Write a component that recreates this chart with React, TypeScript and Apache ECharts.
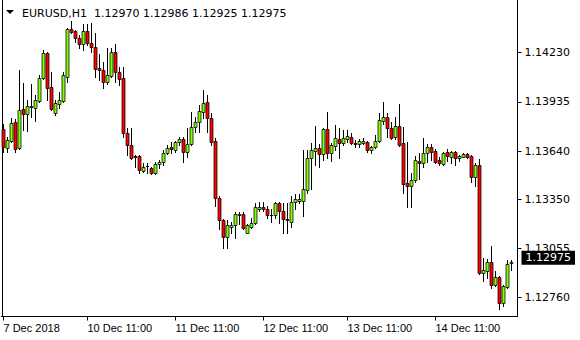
import React, { useEffect, useRef } from "react";
import * as echarts from "echarts";

// Header info
const symbolName = "EURUSD,H1";
const headerOHLC = [1.1297, 1.12986, 1.12925, 1.12975];

// Price axis ticks (right scale)
const priceTicks = [1.1423, 1.13935, 1.1364, 1.1335, 1.13055, 1.1276];
const priceMin = 1.12647;
const priceMax = 1.14546;

// Time labels and the bar index at which each appears
const timeLabels = ["7 Dec 2018", "10 Dec 11:00", "11 Dec 11:00", "12 Dec 11:00", "13 Dec 11:00", "14 Dec 11:00"];
const timeLabelBars = [0, 21, 43, 65, 86, 108];
const barSlots = 129;

// Candles: open, close, low, high
const opens = [
  1.13771, 1.13656, 1.13699, 1.13813, 1.13656, 1.13891, 1.13861, 1.13903, 1.13897, 1.13939,
  1.14078, 1.14228, 1.14024, 1.13867, 1.13921, 1.13939, 1.14084, 1.14373, 1.14361, 1.14319,
  1.14283, 1.14361, 1.14289, 1.14264, 1.14138, 1.14126, 1.14054, 1.1409, 1.14234, 1.14114,
  1.14078, 1.13747, 1.13674, 1.13608, 1.13608, 1.13518, 1.13548, 1.13536, 1.13506, 1.1356,
  1.13572, 1.13626, 1.13662, 1.13644, 1.13693, 1.13711, 1.13632, 1.13681, 1.13783, 1.13813,
  1.13873, 1.13933, 1.13837, 1.13699, 1.13355, 1.13229, 1.13127, 1.13187, 1.13193, 1.13259,
  1.13265, 1.13151, 1.13187, 1.13211, 1.13295, 1.13307, 1.13295, 1.13259, 1.13259, 1.13325,
  1.13283, 1.13235, 1.13217, 1.13331, 1.13343, 1.13343, 1.13403, 1.13596, 1.13638, 1.13656,
  1.1362, 1.13771, 1.13626, 1.13668, 1.13711, 1.13687, 1.13711, 1.13723, 1.13687, 1.13681,
  1.13687, 1.13693, 1.13644, 1.13662, 1.13699, 1.13819, 1.13843, 1.13777, 1.13723, 1.13789,
  1.13687, 1.13446, 1.13428, 1.13464, 1.13578, 1.13566, 1.13626, 1.13662, 1.13638, 1.13584,
  1.1356, 1.13632, 1.13602, 1.13632, 1.13596, 1.13602, 1.1362, 1.13608, 1.13482, 1.13554,
  1.1291, 1.12922, 1.12976, 1.12838, 1.12886, 1.12729, 1.12826, 1.1297,
];
const closes = [
  1.13662, 1.13705, 1.13807, 1.1365, 1.13885, 1.13861, 1.13909, 1.13909, 1.13945, 1.14078,
  1.14228, 1.14018, 1.13891, 1.13927, 1.13945, 1.14096, 1.14373, 1.14355, 1.14319, 1.14283,
  1.14361, 1.14289, 1.14264, 1.14132, 1.14126, 1.14054, 1.14096, 1.14234, 1.14114, 1.14072,
  1.13747, 1.13674, 1.13596, 1.13602, 1.13524, 1.13542, 1.13548, 1.13506, 1.1356, 1.13572,
  1.13626, 1.13656, 1.1365, 1.13693, 1.13711, 1.13632, 1.13681, 1.13783, 1.13813, 1.13879,
  1.13927, 1.13837, 1.13693, 1.13355, 1.13229, 1.13127, 1.13193, 1.13193, 1.13265, 1.13265,
  1.13181, 1.13193, 1.13211, 1.13301, 1.13307, 1.13295, 1.13253, 1.13259, 1.13325, 1.13277,
  1.13235, 1.13223, 1.13331, 1.13349, 1.13349, 1.1341, 1.13596, 1.13644, 1.13656, 1.1362,
  1.13771, 1.13626, 1.13674, 1.13717, 1.13687, 1.13717, 1.13729, 1.13687, 1.13681, 1.13699,
  1.13699, 1.13644, 1.13662, 1.13699, 1.13825, 1.13843, 1.13777, 1.13717, 1.13789, 1.13674,
  1.1344, 1.13428, 1.13464, 1.13584, 1.13566, 1.13626, 1.13662, 1.13632, 1.13572, 1.13566,
  1.13626, 1.13608, 1.13632, 1.13596, 1.13608, 1.1362, 1.13602, 1.13482, 1.13554, 1.1291,
  1.12928, 1.12976, 1.12838, 1.12886, 1.12729, 1.12832, 1.12964, 1.12975,
];
const lows = [
  1.13632, 1.13632, 1.13693, 1.13632, 1.1365, 1.13765, 1.13759, 1.13843, 1.13819, 1.13933,
  1.14072, 1.13945, 1.13885, 1.13855, 1.13897, 1.13933, 1.14054, 1.14349, 1.14295, 1.14258,
  1.14246, 1.14276, 1.14234, 1.14084, 1.14066, 1.14018, 1.14042, 1.14084, 1.14054, 1.14036,
  1.13723, 1.13614, 1.1359, 1.13542, 1.13506, 1.13512, 1.13506, 1.135, 1.135, 1.13536,
  1.13554, 1.1362, 1.13626, 1.13632, 1.13674, 1.13572, 1.13602, 1.13674, 1.13753, 1.13753,
  1.13837, 1.13753, 1.13674, 1.13313, 1.13175, 1.1306, 1.1306, 1.13145, 1.13115, 1.13205,
  1.13175, 1.13145, 1.13181, 1.13205, 1.13283, 1.13283, 1.13241, 1.13217, 1.13241, 1.13211,
  1.13145, 1.13145, 1.13187, 1.13295, 1.13325, 1.13247, 1.13391, 1.1341, 1.13554, 1.13542,
  1.13584, 1.13596, 1.13578, 1.13644, 1.13596, 1.13674, 1.13693, 1.13681, 1.13662, 1.13662,
  1.13681, 1.13632, 1.13626, 1.13656, 1.13693, 1.13801, 1.13723, 1.13711, 1.13711, 1.13668,
  1.13385, 1.13301, 1.13301, 1.13452, 1.1347, 1.13542, 1.13572, 1.13584, 1.13566, 1.13554,
  1.13554, 1.13578, 1.13566, 1.13554, 1.13578, 1.13602, 1.13596, 1.13452, 1.13428, 1.12904,
  1.12862, 1.1288, 1.1282, 1.12832, 1.12693, 1.12711, 1.1282, 1.12925,
];
const highs = [
  1.13801, 1.13723, 1.13837, 1.13831, 1.14126, 1.14048, 1.13945, 1.14042, 1.13976, 1.14096,
  1.14246, 1.14234, 1.14114, 1.13945, 1.13994, 1.14114, 1.14379, 1.14421, 1.14367, 1.14337,
  1.14403, 1.14403, 1.14409, 1.14349, 1.14222, 1.14174, 1.14258, 1.14258, 1.14283, 1.14144,
  1.14144, 1.13777, 1.13777, 1.13614, 1.13614, 1.13566, 1.13566, 1.13542, 1.13572, 1.13584,
  1.13644, 1.13674, 1.13693, 1.13699, 1.13723, 1.13723, 1.13777, 1.13873, 1.13843, 1.13915,
  1.14006, 1.13976, 1.13867, 1.13717, 1.13373, 1.13235, 1.13223, 1.13217, 1.13271, 1.13271,
  1.13271, 1.13205, 1.13241, 1.13325, 1.13331, 1.13331, 1.13313, 1.13295, 1.13331, 1.13331,
  1.13325, 1.13325, 1.13373, 1.13379, 1.13379, 1.13644, 1.13644, 1.13687, 1.13789, 1.13681,
  1.13777, 1.13873, 1.13687, 1.13795, 1.13777, 1.13765, 1.13765, 1.13747, 1.13705, 1.13711,
  1.13717, 1.13699, 1.13668, 1.13735, 1.13867, 1.13933, 1.13867, 1.13813, 1.13843, 1.13921,
  1.13783, 1.13693, 1.13506, 1.13608, 1.13626, 1.13717, 1.13681, 1.13681, 1.1365, 1.13602,
  1.13632, 1.1365, 1.13638, 1.13638, 1.13614, 1.13626, 1.13626, 1.13614, 1.13566, 1.1359,
  1.13, 1.12994, 1.13067, 1.12922, 1.12892, 1.12838, 1.12988, 1.12986,
];

const BULL = "#80FF00";
const BEAR = "#FF0000";

export default function App() {
  const ref = useRef<HTMLDivElement>(null);

  useEffect(() => {
    if (!ref.current) return;
    const chart = echarts.init(ref.current, null, { renderer: "svg" });

    const categories = Array.from({ length: barSlots }, (_, i) => {
      const k = timeLabelBars.indexOf(i);
      return k >= 0 ? timeLabels[k] : "";
    });
    const candleData = opens.map((o, i) => [i, o, closes[i], lows[i], highs[i]]);
    const showAt = (idx: number) => timeLabelBars.indexOf(idx) >= 0;
    const lastClose = closes[closes.length - 1];

    const renderCandle = (params: any, api: any) => {
      const idx = api.value(0);
      const o = api.value(1);
      const c = api.value(2);
      const l = api.value(3);
      const h = api.value(4);
      const pO = api.coord([idx, o]);
      const pC = api.coord([idx, c]);
      const pL = api.coord([idx, l]);
      const pH = api.coord([idx, h]);
      const xc = Math.floor(pO[0]) + 0.5;
      const top = Math.round(Math.min(pO[1], pC[1])) + 0.5;
      const bot = Math.round(Math.max(pO[1], pC[1])) + 0.5;
      const yH = Math.round(pH[1]);
      const yL = Math.round(pL[1]) + 1;
      const up = c >= o;
      return {
        type: "group",
        children: [
          {
            type: "line",
            shape: { x1: xc, y1: yH, x2: xc, y2: yL },
            style: { stroke: "#000", lineWidth: 1 },
          },
          {
            type: "rect",
            shape: { x: xc - 1.5, y: top, width: 3, height: Math.max(0, bot - top) },
            style: { fill: up ? BULL : BEAR, stroke: "#000", lineWidth: 0.75 },
          },
        ],
      };
    };

    chart.setOption({
      animation: false,
      backgroundColor: "#ffffff",
      grid: { left: 1.5, right: 62.5, top: 0, bottom: 23.5, containLabel: false },
      xAxis: {
        type: "category",
        data: categories,
        boundaryGap: true,
        axisLine: { show: true, lineStyle: { color: "#000", width: 1 } },
        axisTick: { show: true, alignWithLabel: true, interval: (i: number) => showAt(i), length: 4, lineStyle: { color: "#000" } },
        axisLabel: {
          interval: (i: number) => showAt(i),
          align: "left",
          color: "#000",
          fontFamily: "Liberation Sans",
          fontSize: 11,
          margin: 6,
          hideOverlap: false,
        },
        splitLine: { show: false },
      },
      yAxis: [
        {
          type: "value",
          position: "right",
          min: priceMin,
          max: priceMax,
          axisLine: { show: true, lineStyle: { color: "#000", width: 1 } },
          axisTick: { show: true, customValues: priceTicks, length: 4, inside: false, lineStyle: { color: "#000" } },
          axisLabel: {
            customValues: priceTicks,
            formatter: (v: number) => v.toFixed(5),
            color: "#000",
            fontFamily: "DejaVu Sans",
            fontSize: 11,
            margin: 7,
          },
          splitLine: { show: false },
        },
        {
          type: "value",
          position: "left",
          offset: -1,
          min: priceMin,
          max: priceMax,
          axisLine: { show: true, lineStyle: { color: "#000", width: 1 } },
          axisTick: { show: false },
          axisLabel: { show: false },
          splitLine: { show: false },
        },
      ],
      series: [
        {
          type: "custom",
          yAxisIndex: 0,
          data: candleData,
          encode: { x: 0, y: [1, 2, 3, 4] },
          renderItem: renderCandle,
          clip: true,
          markLine: {
            silent: true,
            symbol: ["none", "none"],
            lineStyle: { color: "rgba(0,0,0,0)", width: 0 },
            data: [{ yAxis: lastClose }],
            label: {
              show: true,
              position: "end",
              distance: 4,
              formatter: () => lastClose.toFixed(5),
              backgroundColor: "#000",
              color: "#fff",
              fontFamily: "DejaVu Sans",
              fontSize: 11,
              padding: [2, 4, 1, 4],
            },
          },
        },
      ],
      graphic: [
        {
          type: "polygon",
          shape: { points: [[6, 10], [14, 10], [10, 14]] },
          style: { fill: "#000" },
        },
        {
          type: "text",
          x: 22,
          y: 13,
          style: { text: symbolName, fill: "#000", font: '11px "DejaVu Sans"', verticalAlign: "middle" },
        },
        {
          type: "text",
          x: 94,
          y: 13,
          style: {
            text: headerOHLC.map((v) => v.toFixed(5)).join(" "),
            fill: "#000",
            font: '11px "DejaVu Sans"',
            verticalAlign: "middle",
          },
        },
      ],
    });

    return () => chart.dispose();
  }, []);

  return (
    <div
      ref={ref}
      style={{ position: "fixed", left: 0, top: 0, width: 580, height: 340, background: "#fff" }}
    />
  );
}
